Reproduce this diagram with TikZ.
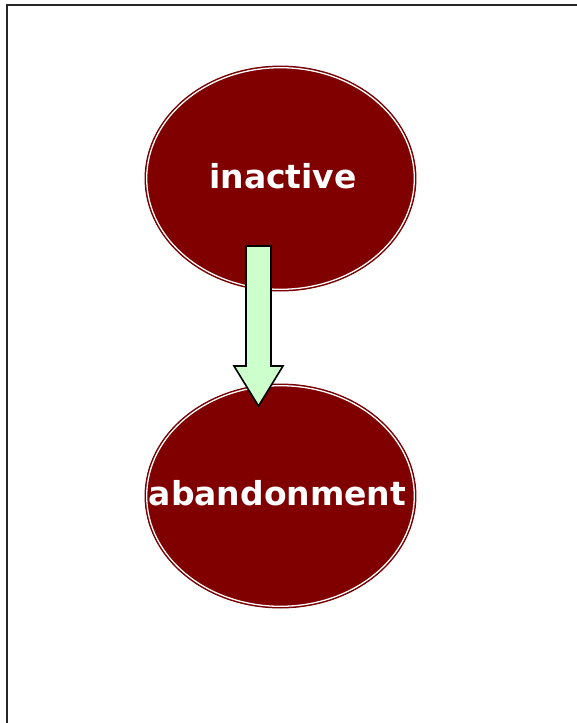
\documentclass[tikz,border=0pt]{standalone}
\usepackage{fontspec}
\newfontfamily\lblfont{DejaVu Sans}
\definecolor{maroonfill}{HTML}{800000}
\definecolor{arrowgreen}{HTML}{CCFFCC}
\tikzset{
  statefill/.style={fill=maroonfill, draw=maroonfill!90!black, line width=0.9pt},
  stateinner/.style={draw=white, line width=1.3pt},
  statelabel/.style={text=white, font=\lblfont\bfseries\fontsize{33}{33}\selectfont, inner sep=0pt, anchor=base},
  blockarrow/.style={fill=arrowgreen, draw=black, line width=1.6pt, line join=miter},
  frameline/.style={draw=black!85, line width=2pt}
}
\begin{document}
\begin{tikzpicture}[x=1pt,y=-1pt]
\useasboundingbox (0,0) rectangle (577,723);
% frame
\draw[frameline] (7.3,723) -- (7.3,5) -- (577,5);
% states
\coordinate (c1) at (280.5,178.5);
\coordinate (c2) at (280.5,496);
\path[statefill] (c1) ellipse [x radius=135.5, y radius=112.5];
\path[stateinner] (c1) ellipse [x radius=133.8, y radius=110.8];
\path[statefill] (c2) ellipse [x radius=135.5, y radius=112];
\path[stateinner] (c2) ellipse [x radius=133.8, y radius=110.3];
\node[statelabel] (inactive) at (283,188) {inactive};
\node[statelabel] (abandon) at (277.5,505) {abandonment};
% block arrow
\coordinate (a1) at (246,246);
\coordinate (a2) at (271,246);
\coordinate (a3) at (271,366);
\coordinate (a4) at (283,366);
\coordinate (tip) at (258.5,406);
\coordinate (a6) at (234,366);
\coordinate (a7) at (246,366);
\draw[blockarrow] (a1) -- (a2) -- (a3) -- (a4) -- (tip) -- (a6) -- (a7) -- cycle;
\end{tikzpicture}
\end{document}
